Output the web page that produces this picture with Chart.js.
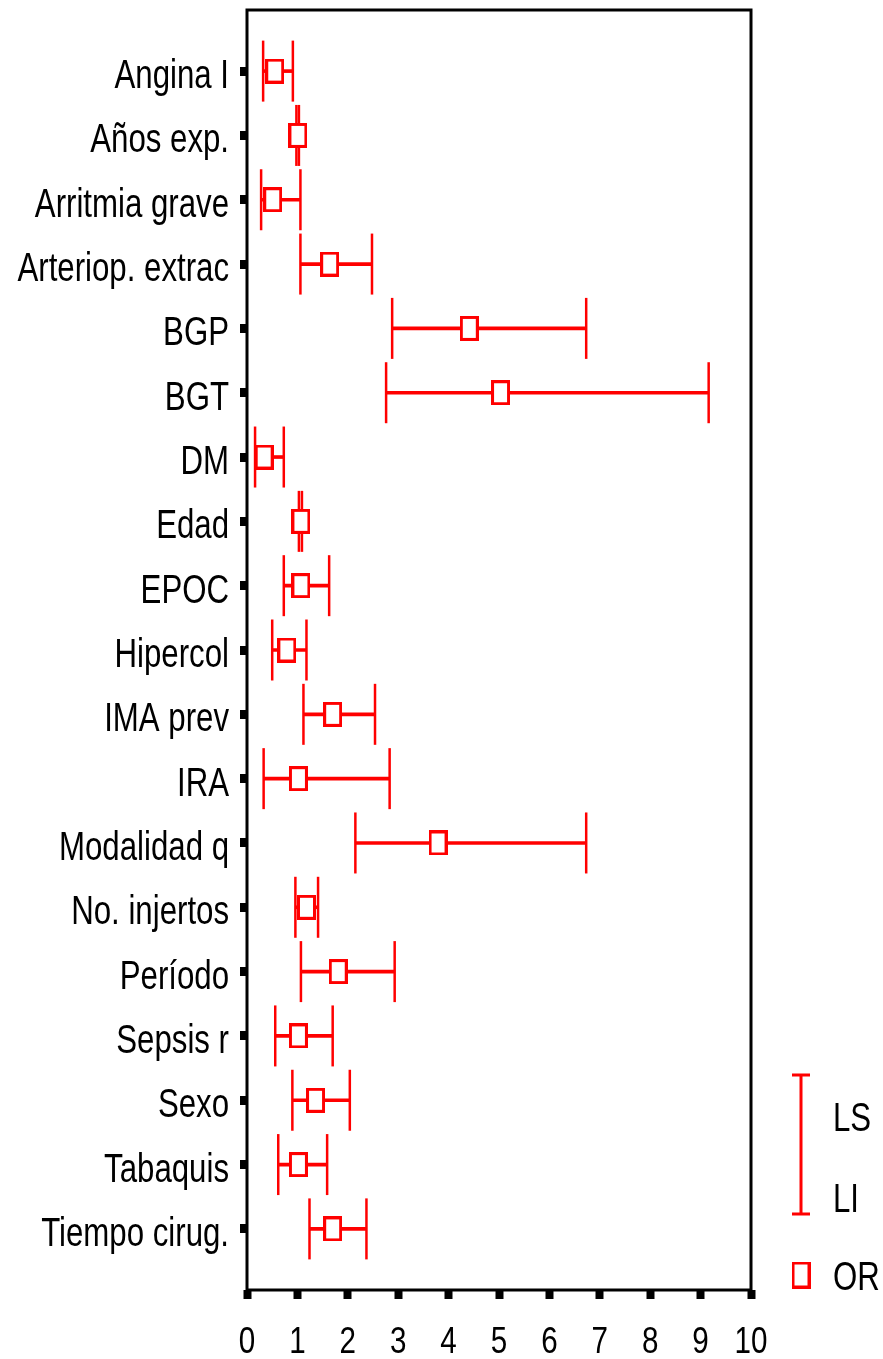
<!DOCTYPE html>
<html>
<head>
<meta charset="utf-8">
<script src="https://cdn.jsdelivr.net/npm/chart.js@4.4.1/dist/chart.umd.min.js"></script>
<style>
  html, body { margin: 0; padding: 0; background: #fff; }
  #wrap { width: 883px; height: 1359px; }
</style>
</head>
<body>
<div id="wrap"><canvas id="c" width="883" height="1359"></canvas></div>
<script>
// Factores de riesgo con su odds ratio (OR) e intervalo de confianza (LI - LS)
const factores = ['Angina I', 'Años exp.', 'Arritmia grave', 'Arteriop. extrac', 'BGP', 'BGT', 'DM', 'Edad', 'EPOC', 'Hipercol', 'IMA prev', 'IRA', 'Modalidad q', 'No. injertos', 'Período', 'Sepsis r', 'Sexo', 'Tabaquis', 'Tiempo cirug.'];
const oddsRatio = [0.55, 1.01, 0.51, 1.64, 4.41, 5.03, 0.34, 1.07, 1.07, 0.79, 1.70, 1.02, 3.79, 1.18, 1.81, 1.02, 1.36, 1.02, 1.70];
const limiteInf = [0.32, 0.98, 0.28, 1.06, 2.88, 2.76, 0.16, 1.03, 0.73, 0.50, 1.12, 0.33, 2.15, 0.96, 1.07, 0.56, 0.90, 0.62, 1.24];
const limiteSup = [0.91, 1.03, 1.06, 2.48, 6.73, 9.16, 0.73, 1.09, 1.63, 1.18, 2.54, 2.83, 6.73, 1.41, 2.93, 1.70, 2.04, 1.59, 2.37];
const xTicks = [0, 1, 2, 3, 4, 5, 6, 7, 8, 9, 10];
const legendLabels = ['LS', 'LI', 'OR'];

const ROJO = '#ff0000';
const FUENTE = '"Liberation Sans", Arial, sans-serif';

// Hollow rectangle used as the OR marker
function boxMarker(w, h, lw) {
  const c = document.createElement('canvas');
  c.width = w; c.height = h;
  const g = c.getContext('2d');
  g.fillStyle = '#fff';
  g.fillRect(0, 0, w, h);
  g.strokeStyle = ROJO;
  g.lineWidth = lw;
  g.strokeRect(lw / 2, lw / 2, w - lw, h - lw);
  return c;
}
const orMarker = boxMarker(19, 25, 3);

// Condensed text helper
function condensedText(ctx, text, x, y, sx, align) {
  ctx.save();
  ctx.translate(x, y);
  ctx.scale(sx, 1);
  ctx.textAlign = align;
  ctx.fillText(text, 0, 0);
  ctx.restore();
}

const framePlugin = {
  id: 'frame',
  beforeDatasetsDraw(chart) {
    const { ctx, chartArea: a } = chart;
    ctx.save();
    ctx.strokeStyle = '#000';
    ctx.lineWidth = 3;
    ctx.strokeRect(a.left, a.top, a.right - a.left, a.bottom - a.top);
    ctx.restore();
  },
  afterDraw(chart) {
    const { ctx, chartArea: a } = chart;
    const ys = chart.scales.y, xs = chart.scales.x;
    ctx.save();
    ctx.fillStyle = '#000';
    ctx.textBaseline = 'alphabetic';

    // category labels
    ctx.font = '40px ' + FUENTE;
    factores.forEach((f, i) => {
      condensedText(ctx, f, a.left - 18, ys.getPixelForValue(i) + 17, 0.78, 'right');
    });

    // x tick labels
    ctx.font = '37px ' + FUENTE;
    xTicks.forEach(v => {
      condensedText(ctx, String(v), xs.getPixelForValue(v), a.bottom + 63, 0.8, 'center');
    });

    // legend
    const lx = a.right + 50;
    const top = 1075, bot = 1214;
    ctx.strokeStyle = ROJO;
    ctx.lineWidth = 3;
    ctx.beginPath();
    ctx.moveTo(lx, top); ctx.lineTo(lx, bot);
    ctx.moveTo(lx - 9, top); ctx.lineTo(lx + 9, top);
    ctx.moveTo(lx - 9, bot); ctx.lineTo(lx + 9, bot);
    ctx.stroke();
    const legendBox = boxMarker(19, 27, 3);
    ctx.drawImage(legendBox, lx - 9.5, 1275 - 13.5);

    ctx.font = '40px ' + FUENTE;
    condensedText(ctx, legendLabels[0], a.right + 82, 1131, 0.78, 'left');
    condensedText(ctx, legendLabels[1], a.right + 82, 1212, 0.78, 'left');
    condensedText(ctx, legendLabels[2], a.right + 82, 1290, 0.78, 'left');
    ctx.restore();
  }
};

new Chart(document.getElementById('c'), {
  type: 'scatter',
  data: {
    datasets: [
      {
        // OR markers
        type: 'scatter',
        data: factores.map((f, i) => ({ x: oddsRatio[i], y: i })),
        pointStyle: orMarker,
        order: 0
      },
      {
        // interval caps (LI and LS)
        type: 'scatter',
        data: factores.map((f, i) => ({ x: limiteInf[i], y: i }))
          .concat(factores.map((f, i) => ({ x: limiteSup[i], y: i }))),
        pointStyle: 'line',
        rotation: 90,
        radius: 30.5,
        borderWidth: 2.5,
        borderColor: ROJO,
        backgroundColor: ROJO,
        order: 1
      },
      {
        // interval line from LI to LS
        type: 'bar',
        indexAxis: 'y',
        data: factores.map((f, i) => ({ y: i, x: [limiteInf[i], limiteSup[i]] })),
        backgroundColor: ROJO,
        borderWidth: 0,
        barThickness: 3,
        order: 2
      }
    ]
  },
  options: {
    responsive: false,
    animation: false,
    devicePixelRatio: 1,
    layout: { autoPadding: false, padding: { left: 0, top: 10, right: 132, bottom: 0 } },
    plugins: { legend: { display: false }, tooltip: { enabled: false } },
    scales: {
      x: {
        type: 'linear',
        min: 0,
        max: 10,
        offset: false,
        ticks: { display: false, stepSize: 1 },
        grid: { offset: false, drawOnChartArea: false, drawTicks: true, tickLength: 9, tickWidth: 8, tickColor: '#000' },
        border: { display: false },
        afterFit(s) { s.height = 69; s.paddingLeft = 0; s.paddingRight = 0; }
      },
      y: {
        type: 'linear',
        reverse: true,
        min: -0.95,
        max: 18.95,
        offset: false,
        afterBuildTicks(s) { s.ticks = factores.map((f, i) => ({ value: i })); },
        ticks: { display: false },
        grid: { offset: false, drawOnChartArea: false, drawTicks: true, tickLength: 7, tickWidth: 9, tickColor: '#000' },
        border: { display: false },
        afterFit(s) { s.width = 247; s.paddingTop = 0; s.paddingBottom = 0; }
      }
    }
  },
  plugins: [framePlugin]
});
</script>
</body>
</html>
